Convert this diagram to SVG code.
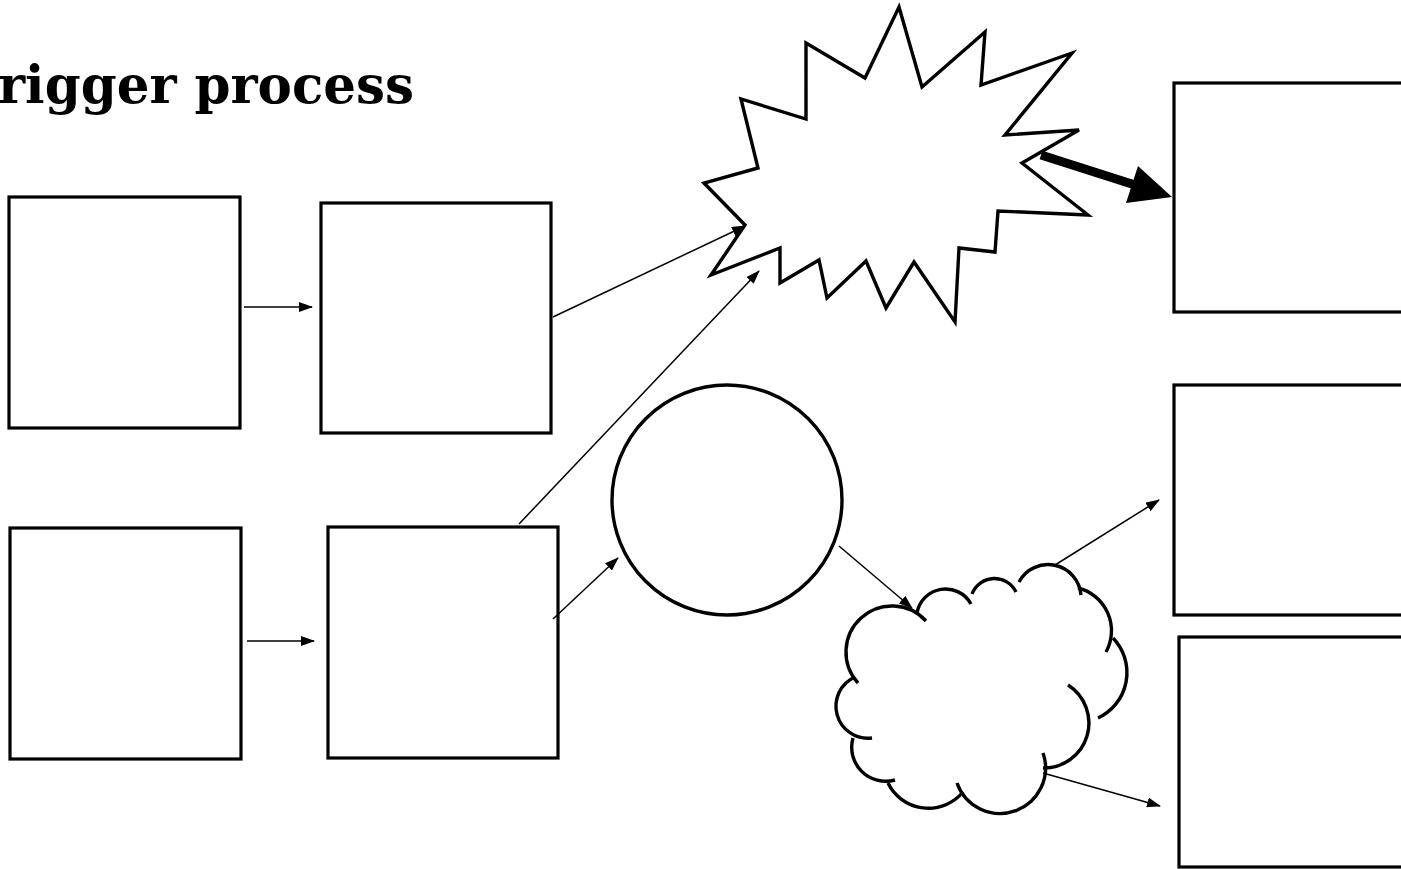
<svg xmlns="http://www.w3.org/2000/svg" width="1401" height="869" viewBox="0 0 1401 869">
  <style>
    .box { fill: #fff; stroke: #000; stroke-width: 3.2; }
    .shape { fill: #fff; stroke: #000; stroke-width: 3.4; stroke-linejoin: miter; }
    .lobe { fill: none; stroke: #000; stroke-width: 3.4; stroke-linecap: butt; }
    .link { fill: none; stroke: #000; stroke-width: 1.5; marker-end: url(#tip); }
    .title { font-family: "DejaVu Serif", "Liberation Serif", serif; font-weight: bold; font-size: 52px; fill: #000; }
  </style>
  <defs>
    <marker id="tip" markerUnits="userSpaceOnUse" markerWidth="14" markerHeight="10" refX="13" refY="5" orient="auto">
      <path d="M0,0 L14,5 L0,10 Z" fill="#000"/>
    </marker>
  </defs>

  <rect width="1401" height="869" fill="#fff"/>

  <text class="title" x="-2" y="103" textLength="416" lengthAdjust="spacingAndGlyphs">rigger process</text>

  <g id="box-a1"><rect class="box" x="9" y="197" width="231" height="231"/></g>
  <g id="box-a2"><rect class="box" x="321" y="203" width="230" height="230"/></g>
  <g id="box-b1"><rect class="box" x="10" y="528" width="231" height="231"/></g>
  <g id="box-b2"><rect class="box" x="328" y="527" width="230" height="231"/></g>

  <g id="burst">
    <polygon class="shape" points="899,7 922,87 985,32 981,85 1072,53 1005,135 1079,130 1022,163 1088,215 998,211 995,252 959,248 955,322 914,262 886,308 866,261 827,298 819,260 780,283 780,248 711,275 745,225 704,183 758,168 741,99 806,119 806,43 865,78"/>
  </g>

  <g id="circle"><circle class="shape" cx="727" cy="500" r="115"/></g>

  <!-- cloud outline: one open arc per lobe, overlapping slightly at the joins -->
  <g id="cloud">
    <path class="lobe" d="M858,683 A46,46 0 0 1 926,621"/>
    <path class="lobe" d="M917,613 A29,29 0 0 1 971,604"/>
    <path class="lobe" d="M972,594 A24,24 0 0 1 1016,592"/>
    <path class="lobe" d="M1019,582 A33,33 0 0 1 1081,595"/>
    <path class="lobe" d="M1078,588 A44,44 0 0 1 1106,652"/>
    <path class="lobe" d="M1113,638 A50,50 0 0 1 1098,718"/>
    <path class="lobe" d="M1068,685 A45,45 0 0 1 1043,768"/>
    <path class="lobe" d="M1043,753 A45,45 0 0 1 957,783"/>
    <path class="lobe" d="M963,792 A45,45 0 0 1 888,783"/>
    <path class="lobe" d="M895,780 A34,34 0 0 1 853,738"/>
    <path class="lobe" d="M872,738 A32,32 0 0 1 855,677"/>
  </g>

  <g id="box-r1"><rect class="box" x="1174" y="83" width="240" height="229"/></g>
  <g id="box-r2"><rect class="box" x="1174" y="385" width="240" height="230"/></g>
  <g id="box-r3"><rect class="box" x="1179" y="637" width="240" height="230"/></g>

  <g id="connectors">
    <line class="link" x1="244" y1="307" x2="312" y2="307"/>
    <line class="link" x1="247" y1="641" x2="314" y2="641"/>
    <line class="link" x1="553" y1="317" x2="745" y2="226"/>
    <line class="link" x1="519" y1="524" x2="759" y2="271"/>
    <line class="link" x1="553" y1="619" x2="618" y2="558"/>
    <line class="link" x1="839" y1="546" x2="912" y2="608"/>
    <line class="link" x1="1055" y1="565" x2="1159" y2="500"/>
    <line class="link" x1="1043" y1="773" x2="1160" y2="806"/>
    <g id="burst-to-box">
      <line x1="1041" y1="155" x2="1135" y2="185" stroke="#000" stroke-width="9"/>
      <polygon points="1172,197 1126,203 1138,166" fill="#000"/>
    </g>
  </g>
</svg>
